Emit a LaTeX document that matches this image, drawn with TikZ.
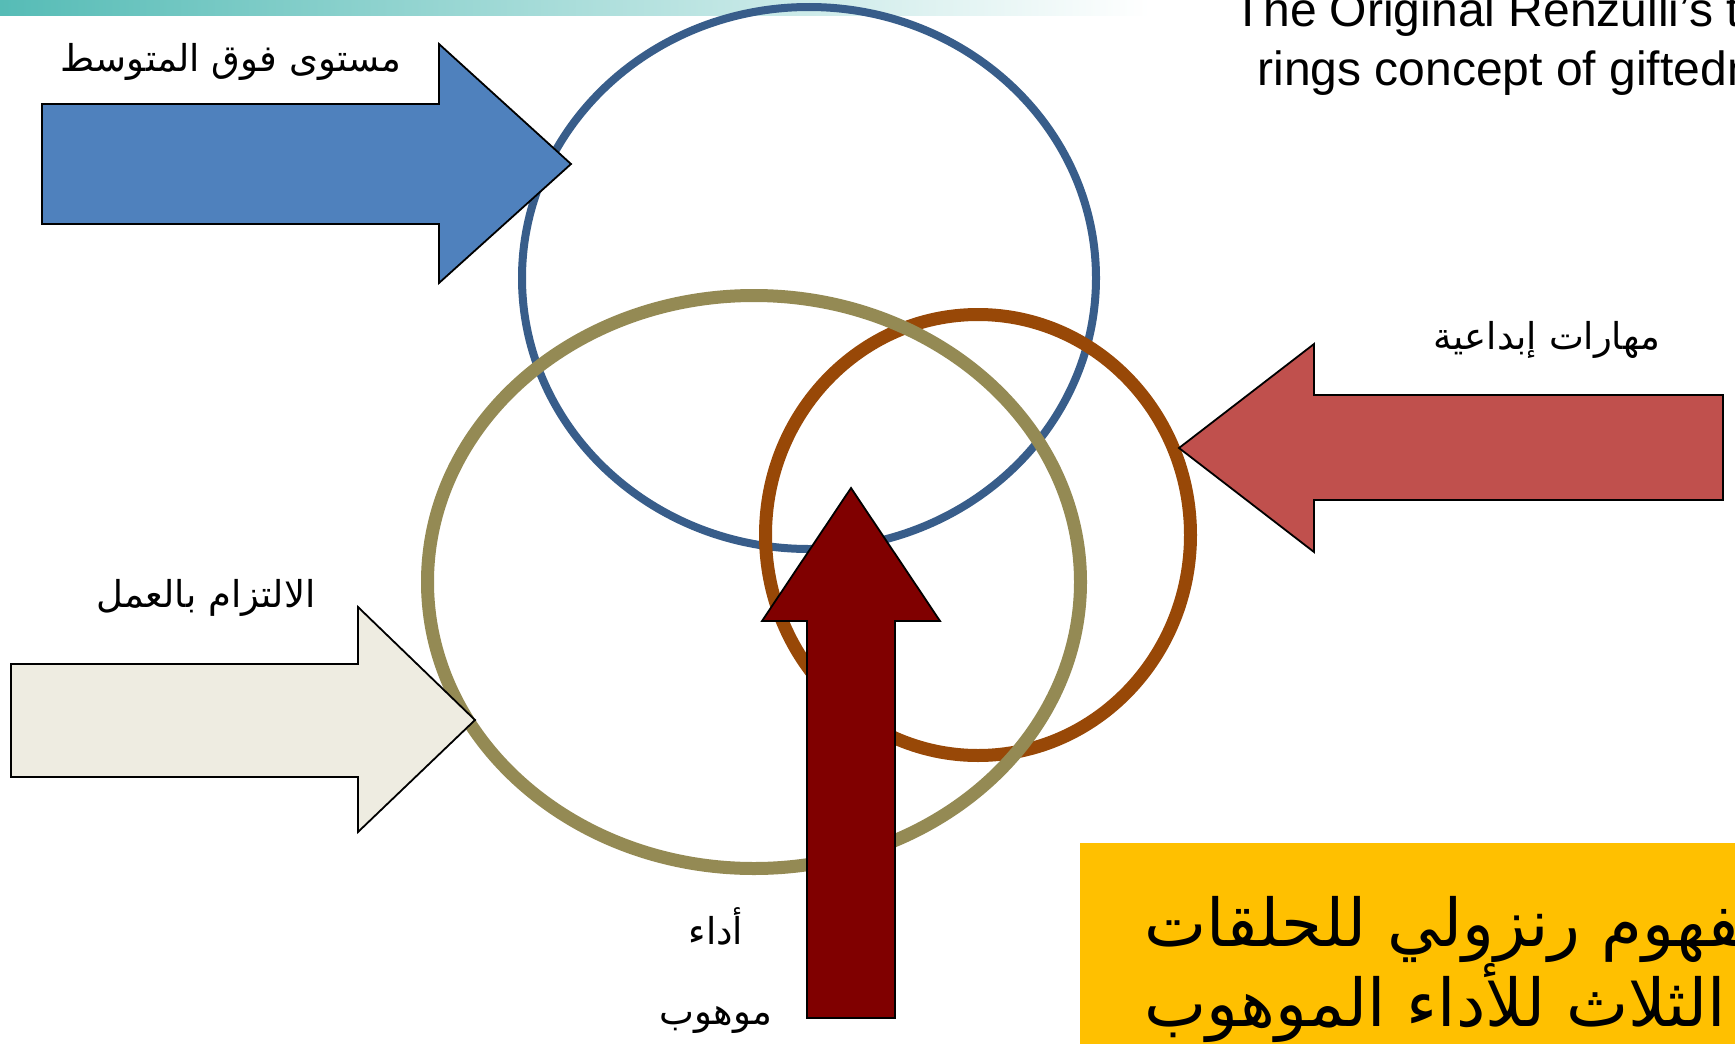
\documentclass[tikz,border=0pt]{standalone}
\usepackage{fontspec}
\setmainfont{Liberation Sans}
\newfontfamily\arabicfont[Script=Arabic]{DejaVu Sans}
\TeXXeTstate=1
\usetikzlibrary{positioning}
\definecolor{bandteal}{HTML}{56BCB6}
\definecolor{ringblue}{HTML}{385D8A}
\definecolor{ringolive}{HTML}{948A54}
\definecolor{ringbrown}{HTML}{984807}
\definecolor{arrowblue}{HTML}{4F81BD}
\definecolor{arrowred}{HTML}{C0504D}
\definecolor{arrowbeige}{HTML}{EEECE1}
\definecolor{arrowmaroon}{HTML}{800000}
\definecolor{boxyellow}{HTML}{FFC000}

\begin{document}
\begin{tikzpicture}[x=1pt,y=-1pt,
    ring/.style={line width=#1},
    blockarrow/.style={draw=black,line width=1.8pt,line join=miter},
    lbl/.style={font=\arabicfont\fontsize{37}{44}\selectfont,inner sep=0pt}]
    \useasboundingbox (0,0) rectangle (1735,1044);
    \clip (0,0) rectangle (1735,1044);
    \fill[white] (0,0) rectangle (1735,1044);

    % slide band at the top
    \shade[left color=bandteal,right color=white] (0,0) rectangle (1150,15);

    % English heading (runs off the page)
    \node[anchor=base,align=center,inner sep=0pt,font=\fontsize{48}{59}\selectfont] (heading) at (1543,85)
        {The Original Renzulli's three-\\rings concept of giftedness};

    % the three rings
    \draw[ringblue,ring=8pt] (809,278) ellipse [x radius=287,y radius=271];
    \draw[ringbrown,ring=13pt] (978,535) ellipse [x radius=212.5,y radius=220.5];
    \draw[ringolive,ring=13pt] (754,582) ellipse [x radius=326.5,y radius=286.5];

    % Arrow 1: above average ability
    \draw[blockarrow,fill=arrowblue] (42,104) -- (439,104) -- (439,44) -- (571,164)
        -- (439,283) -- (439,224) -- (42,224) -- cycle;
    \node[lbl] (ability) at (231,62) {\beginR مستوى فوق المتوسط\endR};

    % Arrow 2: creativity
    \draw[blockarrow,fill=arrowred] (1723,395) -- (1314,395) -- (1314,344) -- (1179,448)
        -- (1314,552) -- (1314,500) -- (1723,500) -- cycle;
    \node[lbl] (creativity) at (1547,340) {\beginR مهارات إبداعية\endR};

    % Arrow 3: task commitment
    \draw[blockarrow,fill=arrowbeige] (11,664) -- (358,664) -- (358,607) -- (475,720)
        -- (358,832) -- (358,777) -- (11,777) -- cycle;
    \node[lbl] (commitment) at (206,598) {\beginR الالتزام بالعمل\endR};

    % Arrow 4: gifted behaviour
    \draw[blockarrow,fill=arrowmaroon] (807,1018) -- (807,621) -- (762,621) -- (851,488)
        -- (940,621) -- (895,621) -- (895,1018) -- cycle;
    \node[lbl] (perf) at (716,926) {\beginR أداء\endR};
    \node[lbl] (gifted) at (716,1020) {\beginR موهوب\endR};

    % Arabic title box (runs off the page)
    \fill[boxyellow] (1080,843) rectangle (1800,1100);
    \node[anchor=base west,align=left,inner sep=0pt,
          font=\arabicfont\fontsize{66}{80}\selectfont] (title) at (1144,1026)
        {\beginR مفهوم رنزولي للحلقات\endR\\\beginR الثلاث للأداء الموهوب\endR};
\end{tikzpicture}
\end{document}
